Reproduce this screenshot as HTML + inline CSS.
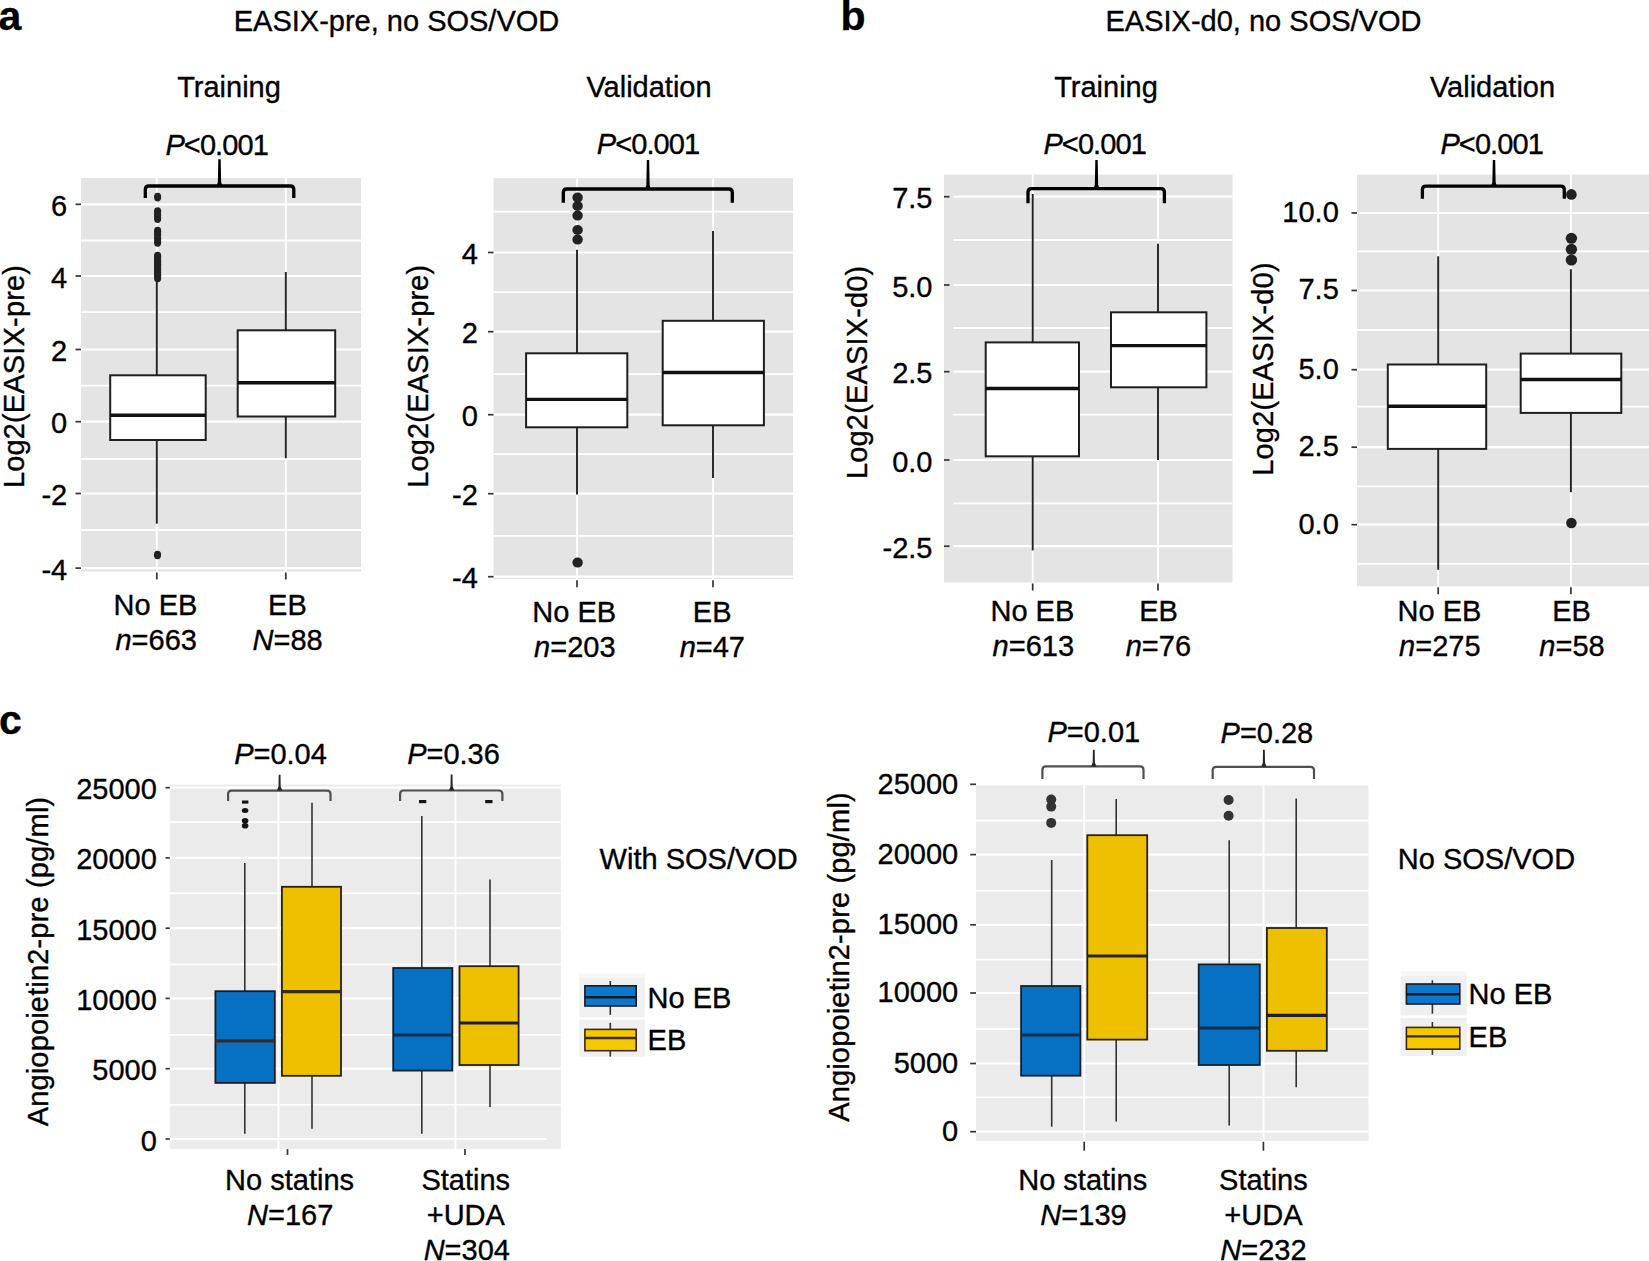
<!DOCTYPE html>
<html><head><meta charset="utf-8"><title>EASIX and Angiopoietin2 box plots</title>
<style>
html,body{margin:0;padding:0;background:#FFFFFF;width:1649px;height:1261px;overflow:hidden;}
svg{display:block;}
text{font-family:"Liberation Sans", Arial, Helvetica, sans-serif;font-size:29px;fill:#000000;stroke:#000000;stroke-width:0.35px;}
</style></head>
<body>
<svg width="1649" height="1261" viewBox="0 0 1649 1261">
<rect x="0" y="0" width="1649" height="1261" fill="#FFFFFF"/>
<text x="-1.5" y="30.3" style="font-size:41px;font-weight:bold">a</text>
<text x="840.5" y="30.3" style="font-size:41px;font-weight:bold">b</text>
<text x="-1" y="734.2" style="font-size:41px;font-weight:bold">c</text>
<text x="396.5" y="31.2" text-anchor="middle">EASIX-pre, no SOS/VOD</text>
<text x="1263.5" y="31.2" text-anchor="middle">EASIX-d0, no SOS/VOD</text>
<rect x="81" y="178" width="280" height="393.5" fill="#E4E4E4"/>
<line x1="81" y1="530" x2="361" y2="530" stroke="#FFFFFF" stroke-width="1.8"/>
<line x1="81" y1="459" x2="361" y2="459" stroke="#FFFFFF" stroke-width="1.8"/>
<line x1="81" y1="385.6" x2="361" y2="385.6" stroke="#FFFFFF" stroke-width="1.8"/>
<line x1="81" y1="312.2" x2="361" y2="312.2" stroke="#FFFFFF" stroke-width="1.8"/>
<line x1="81" y1="240.5" x2="361" y2="240.5" stroke="#FFFFFF" stroke-width="1.8"/>
<line x1="81" y1="568.1" x2="361" y2="568.1" stroke="#FFFFFF" stroke-width="2.2"/>
<line x1="81" y1="493.5" x2="361" y2="493.5" stroke="#FFFFFF" stroke-width="2.2"/>
<line x1="81" y1="421.7" x2="361" y2="421.7" stroke="#FFFFFF" stroke-width="2.2"/>
<line x1="81" y1="349.5" x2="361" y2="349.5" stroke="#FFFFFF" stroke-width="2.2"/>
<line x1="81" y1="276" x2="361" y2="276" stroke="#FFFFFF" stroke-width="2.2"/>
<line x1="81" y1="204.3" x2="361" y2="204.3" stroke="#FFFFFF" stroke-width="2.2"/>
<line x1="156.8" y1="178" x2="156.8" y2="571.5" stroke="#FFFFFF" stroke-width="1.8"/>
<line x1="285.8" y1="178" x2="285.8" y2="571.5" stroke="#FFFFFF" stroke-width="1.8"/>
<line x1="75.5" y1="568.1" x2="81" y2="568.1" stroke="#333333" stroke-width="1.7"/>
<line x1="75.5" y1="493.5" x2="81" y2="493.5" stroke="#333333" stroke-width="1.7"/>
<line x1="75.5" y1="421.7" x2="81" y2="421.7" stroke="#333333" stroke-width="1.7"/>
<line x1="75.5" y1="349.5" x2="81" y2="349.5" stroke="#333333" stroke-width="1.7"/>
<line x1="75.5" y1="276" x2="81" y2="276" stroke="#333333" stroke-width="1.7"/>
<line x1="75.5" y1="204.3" x2="81" y2="204.3" stroke="#333333" stroke-width="1.7"/>
<line x1="156.8" y1="572.5" x2="156.8" y2="579.5" stroke="#333333" stroke-width="1.7"/>
<line x1="285.8" y1="572.5" x2="285.8" y2="579.5" stroke="#333333" stroke-width="1.7"/>
<text x="67.2" y="579.6" text-anchor="end">-4</text>
<text x="67.2" y="505" text-anchor="end">-2</text>
<text x="67.2" y="433.2" text-anchor="end">0</text>
<text x="67.2" y="361" text-anchor="end">2</text>
<text x="67.2" y="287.5" text-anchor="end">4</text>
<text x="67.2" y="215.8" text-anchor="end">6</text>
<text x="229" y="97" text-anchor="middle">Training</text>
<text x="216.7" y="154.9" text-anchor="middle" letter-spacing="-0.9"><tspan font-style="italic">P</tspan>&lt;0.001</text>
<line x1="156.8" y1="281" x2="156.8" y2="375.3" stroke="#222222" stroke-width="1.9"/>
<line x1="156.8" y1="440" x2="156.8" y2="523.7" stroke="#222222" stroke-width="1.9"/>
<rect x="110.2" y="375.3" width="95.5" height="64.7" fill="#FFFFFF" stroke="#1E1E1E" stroke-width="2.0"/>
<line x1="110.2" y1="415.3" x2="205.7" y2="415.3" stroke="#111111" stroke-width="3.4"/>
<line x1="285.8" y1="272" x2="285.8" y2="330.3" stroke="#222222" stroke-width="1.9"/>
<line x1="285.8" y1="416.5" x2="285.8" y2="458.2" stroke="#222222" stroke-width="1.9"/>
<rect x="237.7" y="330.3" width="97.5" height="86.2" fill="#FFFFFF" stroke="#1E1E1E" stroke-width="2.0"/>
<line x1="237.7" y1="382.7" x2="335.2" y2="382.7" stroke="#111111" stroke-width="3.4"/>
<ellipse cx="157.6" cy="197.1" rx="3.6" ry="4.4" fill="#222222"/>
<ellipse cx="157.6" cy="211.6" rx="3.6" ry="4.4" fill="#222222"/>
<ellipse cx="157.6" cy="215" rx="3.6" ry="4.4" fill="#222222"/>
<ellipse cx="157.6" cy="218.6" rx="3.6" ry="4.4" fill="#222222"/>
<ellipse cx="157.6" cy="231.2" rx="3.6" ry="4.4" fill="#222222"/>
<ellipse cx="157.6" cy="234.5" rx="3.6" ry="4.4" fill="#222222"/>
<ellipse cx="157.6" cy="238.5" rx="3.6" ry="4.4" fill="#222222"/>
<ellipse cx="157.6" cy="242.3" rx="3.6" ry="4.4" fill="#222222"/>
<ellipse cx="157.6" cy="256.2" rx="3.6" ry="4.4" fill="#222222"/>
<ellipse cx="157.6" cy="258.91" rx="3.6" ry="4.4" fill="#222222"/>
<ellipse cx="157.6" cy="261.62" rx="3.6" ry="4.4" fill="#222222"/>
<ellipse cx="157.6" cy="264.34" rx="3.6" ry="4.4" fill="#222222"/>
<ellipse cx="157.6" cy="267.05" rx="3.6" ry="4.4" fill="#222222"/>
<ellipse cx="157.6" cy="269.76" rx="3.6" ry="4.4" fill="#222222"/>
<ellipse cx="157.6" cy="272.47" rx="3.6" ry="4.4" fill="#222222"/>
<ellipse cx="157.6" cy="275.19" rx="3.6" ry="4.4" fill="#222222"/>
<ellipse cx="157.6" cy="277.9" rx="3.6" ry="4.4" fill="#222222"/>
<ellipse cx="157.5" cy="555" rx="3.6" ry="4.2" fill="#222222"/>
<path d="M145.3,198 L145.3,189.5 Q145.3,186 148.8,186 L290.3,186 Q293.8,186 293.8,189.5 L293.8,198" fill="none" stroke="#000000" stroke-width="3.3"/>
<polygon points="218.3,159.3 220.7,159.3 221.15,182 222.35,186 216.65,186 217.85,182" fill="#000000"/>
<text x="155.5" y="614.7" text-anchor="middle">No EB</text>
<text x="287.4" y="614.7" text-anchor="middle">EB</text>
<text x="156.2" y="649.5" text-anchor="middle"><tspan font-style="italic">n</tspan>=663</text>
<text x="287.6" y="649.5" text-anchor="middle"><tspan font-style="italic">N</tspan>=88</text>
<text transform="translate(24.4,376.5) rotate(-90)" text-anchor="middle" letter-spacing="0.16">Log2(EASIX-pre)</text>
<rect x="493.5" y="178.2" width="299.5" height="401" fill="#E4E4E4"/>
<line x1="493.5" y1="535.8" x2="793" y2="535.8" stroke="#FFFFFF" stroke-width="1.8"/>
<line x1="493.5" y1="454.2" x2="793" y2="454.2" stroke="#FFFFFF" stroke-width="1.8"/>
<line x1="493.5" y1="374.2" x2="793" y2="374.2" stroke="#FFFFFF" stroke-width="1.8"/>
<line x1="493.5" y1="292.2" x2="793" y2="292.2" stroke="#FFFFFF" stroke-width="1.8"/>
<line x1="493.5" y1="211.7" x2="793" y2="211.7" stroke="#FFFFFF" stroke-width="1.8"/>
<line x1="493.5" y1="576.7" x2="793" y2="576.7" stroke="#FFFFFF" stroke-width="2.2"/>
<line x1="493.5" y1="493.7" x2="793" y2="493.7" stroke="#FFFFFF" stroke-width="2.2"/>
<line x1="493.5" y1="414.7" x2="793" y2="414.7" stroke="#FFFFFF" stroke-width="2.2"/>
<line x1="493.5" y1="331.7" x2="793" y2="331.7" stroke="#FFFFFF" stroke-width="2.2"/>
<line x1="493.5" y1="252.5" x2="793" y2="252.5" stroke="#FFFFFF" stroke-width="2.2"/>
<line x1="577" y1="178.2" x2="577" y2="579.2" stroke="#FFFFFF" stroke-width="1.8"/>
<line x1="713" y1="178.2" x2="713" y2="579.2" stroke="#FFFFFF" stroke-width="1.8"/>
<line x1="488" y1="576.7" x2="493.5" y2="576.7" stroke="#333333" stroke-width="1.7"/>
<line x1="488" y1="493.7" x2="493.5" y2="493.7" stroke="#333333" stroke-width="1.7"/>
<line x1="488" y1="414.7" x2="493.5" y2="414.7" stroke="#333333" stroke-width="1.7"/>
<line x1="488" y1="331.7" x2="493.5" y2="331.7" stroke="#333333" stroke-width="1.7"/>
<line x1="488" y1="252.5" x2="493.5" y2="252.5" stroke="#333333" stroke-width="1.7"/>
<line x1="577" y1="580.2" x2="577" y2="587.2" stroke="#333333" stroke-width="1.7"/>
<line x1="713" y1="580.2" x2="713" y2="587.2" stroke="#333333" stroke-width="1.7"/>
<text x="477.8" y="588.2" text-anchor="end">-4</text>
<text x="477.8" y="505.2" text-anchor="end">-2</text>
<text x="477.8" y="426.2" text-anchor="end">0</text>
<text x="477.8" y="343.2" text-anchor="end">2</text>
<text x="477.8" y="264" text-anchor="end">4</text>
<text x="649" y="97" text-anchor="middle">Validation</text>
<text x="648" y="154.3" text-anchor="middle" letter-spacing="-0.9"><tspan font-style="italic">P</tspan>&lt;0.001</text>
<line x1="577" y1="249.7" x2="577" y2="353.3" stroke="#222222" stroke-width="1.9"/>
<line x1="577" y1="427.3" x2="577" y2="494.6" stroke="#222222" stroke-width="1.9"/>
<rect x="526.1" y="353.3" width="101.2" height="74" fill="#FFFFFF" stroke="#1E1E1E" stroke-width="2.0"/>
<line x1="526.1" y1="399.4" x2="627.3" y2="399.4" stroke="#111111" stroke-width="3.4"/>
<line x1="713" y1="231" x2="713" y2="320.8" stroke="#222222" stroke-width="1.9"/>
<line x1="713" y1="425.3" x2="713" y2="478" stroke="#222222" stroke-width="1.9"/>
<rect x="662.7" y="320.8" width="101.2" height="104.5" fill="#FFFFFF" stroke="#1E1E1E" stroke-width="2.0"/>
<line x1="662.7" y1="372.5" x2="763.9" y2="372.5" stroke="#111111" stroke-width="3.4"/>
<ellipse cx="577.6" cy="197.6" rx="5.2" ry="5.0" fill="#222222"/>
<ellipse cx="577.6" cy="206" rx="5.2" ry="5.0" fill="#222222"/>
<ellipse cx="577.6" cy="215.6" rx="5.2" ry="5.0" fill="#222222"/>
<ellipse cx="577.6" cy="230" rx="5.2" ry="5.0" fill="#222222"/>
<ellipse cx="577.6" cy="239.6" rx="5.2" ry="5.0" fill="#222222"/>
<ellipse cx="577.6" cy="562.6" rx="5.2" ry="5.0" fill="#222222"/>
<path d="M563.3,202.8 L563.3,192.5 Q563.3,189 566.8,189 L728.8,189 Q732.3,189 732.3,192.5 L732.3,202.8" fill="none" stroke="#000000" stroke-width="3.3"/>
<polygon points="646.8,160 649.2,160 649.65,185 650.85,189 645.15,189 646.35,185" fill="#000000"/>
<text x="574.2" y="622" text-anchor="middle">No EB</text>
<text x="712.2" y="622" text-anchor="middle">EB</text>
<text x="574.8" y="656.5" text-anchor="middle"><tspan font-style="italic">n</tspan>=203</text>
<text x="712.3" y="656.5" text-anchor="middle"><tspan font-style="italic">n</tspan>=47</text>
<text transform="translate(427.5,376.2) rotate(-90)" text-anchor="middle" letter-spacing="0.16">Log2(EASIX-pre)</text>
<rect x="944" y="174.6" width="288.5" height="407.9" fill="#E4E4E4"/>
<line x1="953.5" y1="503.3" x2="1232.5" y2="503.3" stroke="#FFFFFF" stroke-width="1.8"/>
<line x1="953.5" y1="414.7" x2="1232.5" y2="414.7" stroke="#FFFFFF" stroke-width="1.8"/>
<line x1="953.5" y1="328" x2="1232.5" y2="328" stroke="#FFFFFF" stroke-width="1.8"/>
<line x1="953.5" y1="240" x2="1232.5" y2="240" stroke="#FFFFFF" stroke-width="1.8"/>
<line x1="953.5" y1="546.2" x2="1232.5" y2="546.2" stroke="#FFFFFF" stroke-width="2.2"/>
<line x1="953.5" y1="460" x2="1232.5" y2="460" stroke="#FFFFFF" stroke-width="2.2"/>
<line x1="953.5" y1="371.7" x2="1232.5" y2="371.7" stroke="#FFFFFF" stroke-width="2.2"/>
<line x1="953.5" y1="285" x2="1232.5" y2="285" stroke="#FFFFFF" stroke-width="2.2"/>
<line x1="953.5" y1="196.7" x2="1232.5" y2="196.7" stroke="#FFFFFF" stroke-width="2.2"/>
<line x1="1032.7" y1="174.6" x2="1032.7" y2="582.5" stroke="#FFFFFF" stroke-width="1.8"/>
<line x1="1158" y1="174.6" x2="1158" y2="582.5" stroke="#FFFFFF" stroke-width="1.8"/>
<line x1="944" y1="546.2" x2="949.5" y2="546.2" stroke="#333333" stroke-width="1.7"/>
<line x1="944" y1="460" x2="949.5" y2="460" stroke="#333333" stroke-width="1.7"/>
<line x1="944" y1="371.7" x2="949.5" y2="371.7" stroke="#333333" stroke-width="1.7"/>
<line x1="944" y1="285" x2="949.5" y2="285" stroke="#333333" stroke-width="1.7"/>
<line x1="944" y1="196.7" x2="949.5" y2="196.7" stroke="#333333" stroke-width="1.7"/>
<line x1="1032.7" y1="583.5" x2="1032.7" y2="590.5" stroke="#333333" stroke-width="1.7"/>
<line x1="1158" y1="583.5" x2="1158" y2="590.5" stroke="#333333" stroke-width="1.7"/>
<text x="932.5" y="557.7" text-anchor="end">-2.5</text>
<text x="932.5" y="471.5" text-anchor="end">0.0</text>
<text x="932.5" y="383.2" text-anchor="end">2.5</text>
<text x="932.5" y="296.5" text-anchor="end">5.0</text>
<text x="932.5" y="208.2" text-anchor="end">7.5</text>
<text x="1106" y="97" text-anchor="middle">Training</text>
<text x="1094.7" y="154.3" text-anchor="middle" letter-spacing="-0.9"><tspan font-style="italic">P</tspan>&lt;0.001</text>
<line x1="1032.7" y1="194" x2="1032.7" y2="342.4" stroke="#222222" stroke-width="1.9"/>
<line x1="1032.7" y1="456.3" x2="1032.7" y2="550.4" stroke="#222222" stroke-width="1.9"/>
<rect x="985.7" y="342.4" width="93.3" height="113.9" fill="#FFFFFF" stroke="#1E1E1E" stroke-width="2.0"/>
<line x1="985.7" y1="388.5" x2="1079" y2="388.5" stroke="#111111" stroke-width="3.4"/>
<line x1="1158" y1="243.7" x2="1158" y2="312.3" stroke="#222222" stroke-width="1.9"/>
<line x1="1158" y1="387.3" x2="1158" y2="460" stroke="#222222" stroke-width="1.9"/>
<rect x="1111" y="312.3" width="95.4" height="75" fill="#FFFFFF" stroke="#1E1E1E" stroke-width="2.0"/>
<line x1="1111" y1="345.6" x2="1206.4" y2="345.6" stroke="#111111" stroke-width="3.4"/>
<path d="M1028,203.2 L1028,192.1 Q1028,188.6 1031.5,188.6 L1160.9,188.6 Q1164.4,188.6 1164.4,192.1 L1164.4,203.2" fill="none" stroke="#000000" stroke-width="3.3"/>
<polygon points="1095.3,160 1097.7,160 1098.15,184.6 1099.35,188.6 1093.65,188.6 1094.85,184.6" fill="#000000"/>
<text x="1032.4" y="621.2" text-anchor="middle">No EB</text>
<text x="1158.6" y="621.2" text-anchor="middle">EB</text>
<text x="1033.3" y="656" text-anchor="middle"><tspan font-style="italic">n</tspan>=613</text>
<text x="1158.4" y="656" text-anchor="middle"><tspan font-style="italic">n</tspan>=76</text>
<text transform="translate(866.5,372.3) rotate(-90)" text-anchor="middle" letter-spacing="0.16">Log2(EASIX-d0)</text>
<rect x="1357" y="174.6" width="292" height="411.7" fill="#E4E4E4"/>
<line x1="1357" y1="563.8" x2="1649" y2="563.8" stroke="#FFFFFF" stroke-width="1.8"/>
<line x1="1357" y1="486.3" x2="1649" y2="486.3" stroke="#FFFFFF" stroke-width="1.8"/>
<line x1="1357" y1="406.7" x2="1649" y2="406.7" stroke="#FFFFFF" stroke-width="1.8"/>
<line x1="1357" y1="330" x2="1649" y2="330" stroke="#FFFFFF" stroke-width="1.8"/>
<line x1="1357" y1="251.3" x2="1649" y2="251.3" stroke="#FFFFFF" stroke-width="1.8"/>
<line x1="1357" y1="524.7" x2="1649" y2="524.7" stroke="#FFFFFF" stroke-width="2.2"/>
<line x1="1357" y1="447.2" x2="1649" y2="447.2" stroke="#FFFFFF" stroke-width="2.2"/>
<line x1="1357" y1="369.7" x2="1649" y2="369.7" stroke="#FFFFFF" stroke-width="2.2"/>
<line x1="1357" y1="290.5" x2="1649" y2="290.5" stroke="#FFFFFF" stroke-width="2.2"/>
<line x1="1357" y1="213" x2="1649" y2="213" stroke="#FFFFFF" stroke-width="2.2"/>
<line x1="1438.2" y1="174.6" x2="1438.2" y2="586.3" stroke="#FFFFFF" stroke-width="1.8"/>
<line x1="1570.9" y1="174.6" x2="1570.9" y2="586.3" stroke="#FFFFFF" stroke-width="1.8"/>
<line x1="1351.5" y1="524.7" x2="1357" y2="524.7" stroke="#333333" stroke-width="1.7"/>
<line x1="1351.5" y1="447.2" x2="1357" y2="447.2" stroke="#333333" stroke-width="1.7"/>
<line x1="1351.5" y1="369.7" x2="1357" y2="369.7" stroke="#333333" stroke-width="1.7"/>
<line x1="1351.5" y1="290.5" x2="1357" y2="290.5" stroke="#333333" stroke-width="1.7"/>
<line x1="1351.5" y1="213" x2="1357" y2="213" stroke="#333333" stroke-width="1.7"/>
<line x1="1438.2" y1="587.3" x2="1438.2" y2="594.3" stroke="#333333" stroke-width="1.7"/>
<line x1="1570.9" y1="587.3" x2="1570.9" y2="594.3" stroke="#333333" stroke-width="1.7"/>
<text x="1338.8" y="533.6" text-anchor="end">0.0</text>
<text x="1338.8" y="456.1" text-anchor="end">2.5</text>
<text x="1338.8" y="378.6" text-anchor="end">5.0</text>
<text x="1338.8" y="299.4" text-anchor="end">7.5</text>
<text x="1338.8" y="221.9" text-anchor="end">10.0</text>
<text x="1492.5" y="97" text-anchor="middle">Validation</text>
<text x="1491.7" y="154.3" text-anchor="middle" letter-spacing="-0.9"><tspan font-style="italic">P</tspan>&lt;0.001</text>
<line x1="1438.2" y1="256.3" x2="1438.2" y2="364.5" stroke="#222222" stroke-width="1.9"/>
<line x1="1438.2" y1="448.9" x2="1438.2" y2="569.8" stroke="#222222" stroke-width="1.9"/>
<rect x="1387.8" y="364.5" width="98.4" height="84.4" fill="#FFFFFF" stroke="#1E1E1E" stroke-width="2.0"/>
<line x1="1387.8" y1="406.2" x2="1486.2" y2="406.2" stroke="#111111" stroke-width="3.4"/>
<line x1="1570.9" y1="269.2" x2="1570.9" y2="353.6" stroke="#222222" stroke-width="1.9"/>
<line x1="1570.9" y1="412.9" x2="1570.9" y2="492.2" stroke="#222222" stroke-width="1.9"/>
<rect x="1520.7" y="353.6" width="100.6" height="59.3" fill="#FFFFFF" stroke="#1E1E1E" stroke-width="2.0"/>
<line x1="1520.7" y1="379.5" x2="1621.3" y2="379.5" stroke="#111111" stroke-width="3.4"/>
<ellipse cx="1571.4" cy="194.4" rx="5.3" ry="5.3" fill="#222222"/>
<ellipse cx="1571.4" cy="238.3" rx="5.7" ry="5.5" fill="#222222"/>
<ellipse cx="1571.4" cy="249.3" rx="5.7" ry="5.5" fill="#222222"/>
<ellipse cx="1571.4" cy="260" rx="5.7" ry="5.5" fill="#222222"/>
<ellipse cx="1571.4" cy="523" rx="5.3" ry="5.3" fill="#222222"/>
<path d="M1422.4,198.8 L1422.4,189.7 Q1422.4,186.2 1425.9,186.2 L1560.8,186.2 Q1564.3,186.2 1564.3,189.7 L1564.3,198.8" fill="none" stroke="#000000" stroke-width="3.3"/>
<polygon points="1492.8,160 1495.2,160 1495.65,182.2 1496.85,186.2 1491.15,186.2 1492.35,182.2" fill="#000000"/>
<text x="1439.5" y="621.2" text-anchor="middle">No EB</text>
<text x="1571.6" y="621.2" text-anchor="middle">EB</text>
<text x="1439.8" y="656" text-anchor="middle"><tspan font-style="italic">n</tspan>=275</text>
<text x="1572" y="656" text-anchor="middle"><tspan font-style="italic">n</tspan>=58</text>
<text transform="translate(1272.5,369) rotate(-90)" text-anchor="middle" letter-spacing="0.16">Log2(EASIX-d0)</text>
<rect x="169.8" y="784.5" width="391" height="364.4" fill="#EBEBEB"/>
<line x1="169.8" y1="1104.8" x2="560.8" y2="1104.8" stroke="#FFFFFF" stroke-width="1.8"/>
<line x1="169.8" y1="1034.9" x2="560.8" y2="1034.9" stroke="#FFFFFF" stroke-width="1.8"/>
<line x1="169.8" y1="964.3" x2="560.8" y2="964.3" stroke="#FFFFFF" stroke-width="1.8"/>
<line x1="169.8" y1="893.3" x2="560.8" y2="893.3" stroke="#FFFFFF" stroke-width="1.8"/>
<line x1="169.8" y1="822.1" x2="560.8" y2="822.1" stroke="#FFFFFF" stroke-width="1.8"/>
<line x1="169.8" y1="1139" x2="547" y2="1139" stroke="#FFFFFF" stroke-width="2.2"/>
<line x1="169.8" y1="1068.7" x2="560.8" y2="1068.7" stroke="#FFFFFF" stroke-width="2.2"/>
<line x1="169.8" y1="998.4" x2="560.8" y2="998.4" stroke="#FFFFFF" stroke-width="2.2"/>
<line x1="169.8" y1="928.2" x2="560.8" y2="928.2" stroke="#FFFFFF" stroke-width="2.2"/>
<line x1="169.8" y1="857.9" x2="560.8" y2="857.9" stroke="#FFFFFF" stroke-width="2.2"/>
<line x1="169.8" y1="787.7" x2="560.8" y2="787.7" stroke="#FFFFFF" stroke-width="2.2"/>
<line x1="278.5" y1="784.5" x2="278.5" y2="1148.9" stroke="#FFFFFF" stroke-width="1.8"/>
<line x1="455.5" y1="784.5" x2="455.5" y2="1148.9" stroke="#FFFFFF" stroke-width="1.8"/>
<line x1="165.6" y1="1139" x2="169.8" y2="1139" stroke="#333333" stroke-width="1.7"/>
<line x1="165.6" y1="1068.7" x2="169.8" y2="1068.7" stroke="#333333" stroke-width="1.7"/>
<line x1="165.6" y1="998.4" x2="169.8" y2="998.4" stroke="#333333" stroke-width="1.7"/>
<line x1="165.6" y1="928.2" x2="169.8" y2="928.2" stroke="#333333" stroke-width="1.7"/>
<line x1="165.6" y1="857.9" x2="169.8" y2="857.9" stroke="#333333" stroke-width="1.7"/>
<line x1="165.6" y1="787.7" x2="169.8" y2="787.7" stroke="#333333" stroke-width="1.7"/>
<line x1="287.5" y1="1149.1" x2="287.5" y2="1154.9" stroke="#333333" stroke-width="1.7"/>
<line x1="465" y1="1149.1" x2="465" y2="1154.9" stroke="#333333" stroke-width="1.7"/>
<text x="156.8" y="1150.5" text-anchor="end">0</text>
<text x="156.8" y="1080.2" text-anchor="end">5000</text>
<text x="156.8" y="1009.9" text-anchor="end">10000</text>
<text x="156.8" y="939.7" text-anchor="end">15000</text>
<text x="156.8" y="869.4" text-anchor="end">20000</text>
<text x="156.8" y="799.2" text-anchor="end">25000</text>
<text x="280.5" y="764.3" text-anchor="middle"><tspan font-style="italic">P</tspan>=0.04</text>
<text x="453.5" y="764.3" text-anchor="middle"><tspan font-style="italic">P</tspan>=0.36</text>
<path d="M228.1,801 L228.1,794.1 Q228.1,790.6 231.6,790.6 L327,790.6 Q330.5,790.6 330.5,794.1 L330.5,801" fill="none" stroke="#505050" stroke-width="2.2"/>
<polygon points="278.7,774.8 280.5,774.8 280.7,786.6 282.3,790.6 276.9,790.6 278.5,786.6" fill="#262626"/>
<path d="M400.1,801 L400.1,794 Q400.1,790.5 403.6,790.5 L498.9,790.5 Q502.4,790.5 502.4,794 L502.4,801" fill="none" stroke="#505050" stroke-width="2.2"/>
<polygon points="450.7,774.5 452.5,774.5 452.7,786.5 454.3,790.5 448.9,790.5 450.5,786.5" fill="#262626"/>
<line x1="244.8" y1="863" x2="244.8" y2="991.2" stroke="#333333" stroke-width="1.6"/>
<line x1="244.8" y1="1082.9" x2="244.8" y2="1133.8" stroke="#333333" stroke-width="1.6"/>
<rect x="215.4" y="991.2" width="59.4" height="91.7" fill="#0671C3" stroke="#1C1C24" stroke-width="1.8"/>
<line x1="215.4" y1="1040.9" x2="274.8" y2="1040.9" stroke="#40291C" stroke-width="3.2"/>
<line x1="312" y1="802.7" x2="312" y2="886.8" stroke="#333333" stroke-width="1.6"/>
<line x1="312" y1="1075.8" x2="312" y2="1128.7" stroke="#333333" stroke-width="1.6"/>
<rect x="281.9" y="886.8" width="59.1" height="189" fill="#EEC100" stroke="#2A2208" stroke-width="1.8"/>
<line x1="281.9" y1="991.7" x2="341" y2="991.7" stroke="#3A2A10" stroke-width="3.2"/>
<line x1="421.8" y1="816" x2="421.8" y2="968" stroke="#333333" stroke-width="1.6"/>
<line x1="421.8" y1="1070.6" x2="421.8" y2="1133.8" stroke="#333333" stroke-width="1.6"/>
<rect x="393.2" y="968" width="59.1" height="102.6" fill="#0671C3" stroke="#14202C" stroke-width="1.8"/>
<line x1="393.2" y1="1035" x2="452.3" y2="1035" stroke="#0F2E50" stroke-width="3.2"/>
<line x1="490" y1="879.5" x2="490" y2="966.2" stroke="#333333" stroke-width="1.6"/>
<line x1="490" y1="1065" x2="490" y2="1107" stroke="#333333" stroke-width="1.6"/>
<rect x="459.5" y="966.2" width="59.1" height="98.8" fill="#EEC100" stroke="#2A2208" stroke-width="1.8"/>
<line x1="459.5" y1="1023" x2="518.6" y2="1023" stroke="#1E1E3C" stroke-width="3.2"/>
<rect x="242" y="800.5" width="6.4" height="3.1" fill="#151515"/>
<ellipse cx="245.1" cy="810.4" rx="3.3" ry="2.5" fill="#151515"/>
<ellipse cx="245.1" cy="820.8" rx="3.3" ry="2.8" fill="#151515"/>
<ellipse cx="245.1" cy="825.8" rx="3.3" ry="2.8" fill="#151515"/>
<rect x="419" y="800" width="7.3" height="3.2" fill="#151515"/>
<rect x="485.2" y="800" width="7.3" height="3.2" fill="#151515"/>
<text x="289.6" y="1190" text-anchor="middle">No statins</text>
<text x="290.2" y="1224.8" text-anchor="middle"><tspan font-style="italic">N</tspan>=167</text>
<text x="465.8" y="1190" text-anchor="middle">Statins</text>
<text x="465.8" y="1224.8" text-anchor="middle">+UDA</text>
<text x="466.8" y="1259.8" text-anchor="middle"><tspan font-style="italic">N</tspan>=304</text>
<text transform="translate(47.8,961.5) rotate(-90)" text-anchor="middle" letter-spacing="0.16">Angiopoietin2-pre (pg/ml)</text>
<text x="599.6" y="868.8">With SOS/VOD</text>
<rect x="579.2" y="973.4" width="65.7" height="4.5" fill="#F6F6F6"/>
<rect x="579.2" y="977.9" width="65.7" height="39.4" fill="#F0F0F0"/>
<rect x="579.2" y="1019.7" width="65.7" height="37" fill="#F0F0F0"/>
<line x1="610.3" y1="981" x2="610.3" y2="1014.9" stroke="#333333" stroke-width="1.6"/>
<line x1="610.3" y1="1022.8" x2="610.3" y2="1056.7" stroke="#333333" stroke-width="1.6"/>
<rect x="584.9" y="985.8" width="51.3" height="20.2" fill="#0B78D0" stroke="#1A1A1A" stroke-width="1.6"/>
<line x1="584.9" y1="997.3" x2="636.2" y2="997.3" stroke="#1A1A1A" stroke-width="2.4"/>
<rect x="584.9" y="1029.4" width="51.3" height="21.3" fill="#F6C800" stroke="#3A2A10" stroke-width="1.6"/>
<line x1="584.9" y1="1038" x2="636.2" y2="1038" stroke="#3A2A10" stroke-width="2.4"/>
<text x="647.6" y="1007.6">No EB</text>
<text x="647.6" y="1050">EB</text>
<rect x="976" y="785.4" width="392.5" height="355.6" fill="#EBEBEB"/>
<line x1="976" y1="1097.3" x2="1368.5" y2="1097.3" stroke="#FFFFFF" stroke-width="1.8"/>
<line x1="976" y1="1029" x2="1368.5" y2="1029" stroke="#FFFFFF" stroke-width="1.8"/>
<line x1="976" y1="959.7" x2="1368.5" y2="959.7" stroke="#FFFFFF" stroke-width="1.8"/>
<line x1="976" y1="890.6" x2="1368.5" y2="890.6" stroke="#FFFFFF" stroke-width="1.8"/>
<line x1="976" y1="820.5" x2="1368.5" y2="820.5" stroke="#FFFFFF" stroke-width="1.8"/>
<line x1="976" y1="1131.7" x2="1368.5" y2="1131.7" stroke="#FFFFFF" stroke-width="2.2"/>
<line x1="976" y1="1063.5" x2="1368.5" y2="1063.5" stroke="#FFFFFF" stroke-width="2.2"/>
<line x1="976" y1="993" x2="1368.5" y2="993" stroke="#FFFFFF" stroke-width="2.2"/>
<line x1="976" y1="924.8" x2="1368.5" y2="924.8" stroke="#FFFFFF" stroke-width="2.2"/>
<line x1="976" y1="854.6" x2="1368.5" y2="854.6" stroke="#FFFFFF" stroke-width="2.2"/>
<line x1="1084.2" y1="785.4" x2="1084.2" y2="1141" stroke="#FFFFFF" stroke-width="1.8"/>
<line x1="1263.6" y1="785.4" x2="1263.6" y2="1141" stroke="#FFFFFF" stroke-width="1.8"/>
<line x1="970.2" y1="1131.7" x2="976" y2="1131.7" stroke="#333333" stroke-width="1.7"/>
<line x1="970.2" y1="1063.5" x2="976" y2="1063.5" stroke="#333333" stroke-width="1.7"/>
<line x1="970.2" y1="993" x2="976" y2="993" stroke="#333333" stroke-width="1.7"/>
<line x1="970.2" y1="924.8" x2="976" y2="924.8" stroke="#333333" stroke-width="1.7"/>
<line x1="970.2" y1="854.6" x2="976" y2="854.6" stroke="#333333" stroke-width="1.7"/>
<line x1="970.2" y1="784.3" x2="976" y2="784.3" stroke="#333333" stroke-width="1.7"/>
<line x1="1084.2" y1="1141.7" x2="1084.2" y2="1150.7" stroke="#333333" stroke-width="1.7"/>
<line x1="1263.4" y1="1141.7" x2="1263.4" y2="1150.7" stroke="#333333" stroke-width="1.7"/>
<text x="958.2" y="1140.9" text-anchor="end">0</text>
<text x="958.2" y="1072.7" text-anchor="end">5000</text>
<text x="958.2" y="1002.2" text-anchor="end">10000</text>
<text x="958.2" y="934" text-anchor="end">15000</text>
<text x="958.2" y="863.8" text-anchor="end">20000</text>
<text x="958.2" y="793.5" text-anchor="end">25000</text>
<text x="1093.8" y="742.2" text-anchor="middle"><tspan font-style="italic">P</tspan>=0.01</text>
<text x="1266.9" y="742.6" text-anchor="middle"><tspan font-style="italic">P</tspan>=0.28</text>
<path d="M1042.4,779 L1042.4,769.9 Q1042.4,766.4 1045.9,766.4 L1140,766.4 Q1143.5,766.4 1143.5,769.9 L1143.5,779" fill="none" stroke="#505050" stroke-width="2.2"/>
<polygon points="1092.9,749.8 1094.7,749.8 1094.9,762.4 1096.5,766.4 1091.1,766.4 1092.7,762.4" fill="#262626"/>
<path d="M1212.7,779 L1212.7,770.3 Q1212.7,766.8 1216.2,766.8 L1310.5,766.8 Q1314,766.8 1314,770.3 L1314,779" fill="none" stroke="#505050" stroke-width="2.2"/>
<polygon points="1263,749.7 1264.8,749.7 1265,762.8 1266.6,766.8 1261.2,766.8 1262.8,762.8" fill="#262626"/>
<line x1="1051.7" y1="860" x2="1051.7" y2="986" stroke="#333333" stroke-width="1.6"/>
<line x1="1051.7" y1="1075.7" x2="1051.7" y2="1126.7" stroke="#333333" stroke-width="1.6"/>
<rect x="1021.1" y="986" width="59.3" height="89.7" fill="#0671C3" stroke="#14202C" stroke-width="1.8"/>
<line x1="1021.1" y1="1035" x2="1080.4" y2="1035" stroke="#12304E" stroke-width="3.2"/>
<line x1="1116.2" y1="799" x2="1116.2" y2="835.2" stroke="#333333" stroke-width="1.6"/>
<line x1="1116.2" y1="1039.6" x2="1116.2" y2="1121.6" stroke="#333333" stroke-width="1.6"/>
<rect x="1087.3" y="835.2" width="59.9" height="204.4" fill="#EEC100" stroke="#2A2208" stroke-width="1.8"/>
<line x1="1087.3" y1="956" x2="1147.2" y2="956" stroke="#262626" stroke-width="3.2"/>
<line x1="1229.2" y1="840.3" x2="1229.2" y2="964.4" stroke="#333333" stroke-width="1.6"/>
<line x1="1229.2" y1="1065" x2="1229.2" y2="1125.4" stroke="#333333" stroke-width="1.6"/>
<rect x="1198.7" y="964.4" width="61.1" height="100.6" fill="#0671C3" stroke="#14202C" stroke-width="1.8"/>
<line x1="1198.7" y1="1028" x2="1259.8" y2="1028" stroke="#0F2E50" stroke-width="3.2"/>
<line x1="1296.2" y1="798.6" x2="1296.2" y2="928" stroke="#333333" stroke-width="1.6"/>
<line x1="1296.2" y1="1050.8" x2="1296.2" y2="1087.2" stroke="#333333" stroke-width="1.6"/>
<rect x="1266.9" y="928" width="59.9" height="122.8" fill="#EEC100" stroke="#2A2208" stroke-width="1.8"/>
<line x1="1266.9" y1="1015.3" x2="1326.8" y2="1015.3" stroke="#1E1E3C" stroke-width="3.2"/>
<ellipse cx="1051.2" cy="799.5" rx="5" ry="5" fill="#333333"/>
<ellipse cx="1051.2" cy="806.6" rx="5" ry="5" fill="#333333"/>
<ellipse cx="1051.2" cy="822.9" rx="5" ry="5" fill="#333333"/>
<ellipse cx="1228.6" cy="800" rx="5" ry="5" fill="#333333"/>
<ellipse cx="1228.6" cy="815.8" rx="5" ry="5" fill="#333333"/>
<text x="1082.7" y="1190" text-anchor="middle">No statins</text>
<text x="1083.5" y="1224.6" text-anchor="middle"><tspan font-style="italic">N</tspan>=139</text>
<text x="1263.4" y="1190" text-anchor="middle">Statins</text>
<text x="1263.4" y="1224.6" text-anchor="middle">+UDA</text>
<text x="1263.4" y="1259.8" text-anchor="middle"><tspan font-style="italic">N</tspan>=232</text>
<text transform="translate(848.6,957) rotate(-90)" text-anchor="middle" letter-spacing="0.16">Angiopoietin2-pre (pg/ml)</text>
<text x="1397.8" y="868.6">No SOS/VOD</text>
<rect x="1400.6" y="971.5" width="66.1" height="4.5" fill="#F6F6F6"/>
<rect x="1400.6" y="976" width="66.1" height="39.5" fill="#F0F0F0"/>
<rect x="1400.6" y="1017.9" width="66.1" height="38.2" fill="#F0F0F0"/>
<line x1="1432.4" y1="980.3" x2="1432.4" y2="1013.7" stroke="#333333" stroke-width="1.6"/>
<line x1="1432.4" y1="1022" x2="1432.4" y2="1054.9" stroke="#333333" stroke-width="1.6"/>
<rect x="1406.4" y="984" width="53.4" height="20" fill="#0B78D0" stroke="#1A1A1A" stroke-width="1.6"/>
<line x1="1406.4" y1="994.3" x2="1459.8" y2="994.3" stroke="#1A1A1A" stroke-width="2.4"/>
<rect x="1406.4" y="1027.4" width="53.4" height="21.8" fill="#F6C800" stroke="#3A2A10" stroke-width="1.6"/>
<line x1="1406.4" y1="1036.4" x2="1459.8" y2="1036.4" stroke="#3A2A10" stroke-width="2.4"/>
<text x="1468.6" y="1004.3">No EB</text>
<text x="1468.6" y="1047">EB</text>
</svg>
</body></html>
